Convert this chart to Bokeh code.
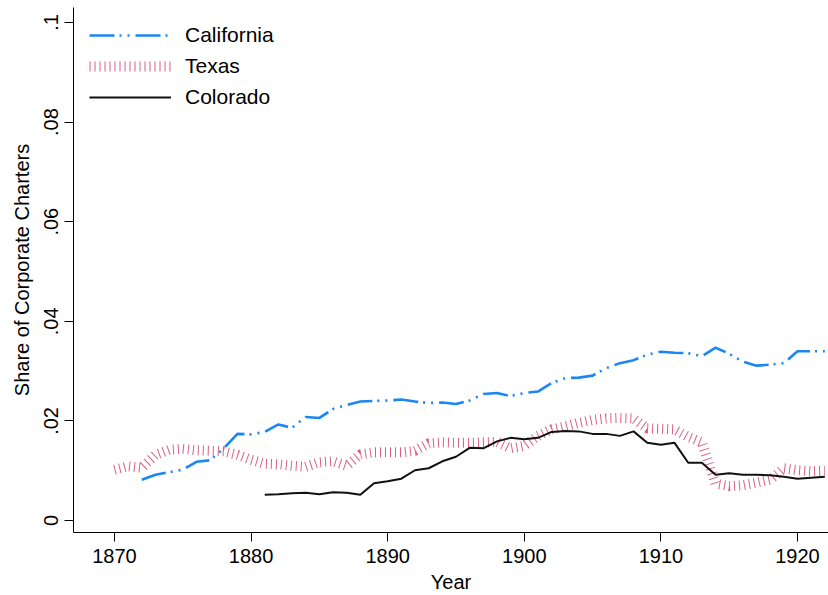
from bokeh.plotting import figure
from bokeh.models import (Legend, LegendItem, FixedTicker, CustomJSTickFormatter,
                          Range1d)
from bokeh.embed import file_html
from bokeh.resources import INLINE

# ---------------- data ----------------
ca_years = list(range(1872, 1923))
ca_share = [0.0082, 0.0092, 0.0097, 0.0102, 0.0118, 0.0121, 0.0145, 0.0174, 0.0173, 0.0178,
            0.0193, 0.0186, 0.0208, 0.0206, 0.0224, 0.0232, 0.0239, 0.0240, 0.0241, 0.0243,
            0.0239, 0.0236, 0.0237, 0.0234, 0.0241, 0.0254, 0.0256, 0.0250, 0.0256, 0.0259,
            0.0276, 0.0286, 0.0287, 0.0291, 0.0306, 0.0316, 0.0322, 0.0333, 0.0339, 0.0337,
            0.0336, 0.0330, 0.0347, 0.0335, 0.0319, 0.0311, 0.0313, 0.0316, 0.0340, 0.0340,
            0.0340]

tx_years = list(range(1870, 1923))
tx_share = [0.0102, 0.0109, 0.0106, 0.0132, 0.0142, 0.0144, 0.0141, 0.0140, 0.0139, 0.0132,
            0.0122, 0.0114, 0.0113, 0.0110, 0.0108, 0.0117, 0.0119, 0.0110, 0.0133, 0.0137,
            0.0137, 0.0137, 0.0140, 0.0155, 0.0157, 0.0156, 0.0156, 0.0157, 0.0158, 0.0145,
            0.0150, 0.0170, 0.0183, 0.0189, 0.0196, 0.0202, 0.0205, 0.0206, 0.0205, 0.0185,
            0.0184, 0.0183, 0.0168, 0.0157, 0.0074, 0.0069, 0.0071, 0.0076, 0.0082, 0.0105,
            0.0101, 0.0099, 0.0100]

co_years = list(range(1881, 1923))
co_share = [0.0052, 0.0053, 0.0055, 0.0056, 0.0053, 0.0057, 0.0056, 0.0052, 0.0075, 0.0079,
            0.0084, 0.0101, 0.0105, 0.0119, 0.0128, 0.0146, 0.0145, 0.0159, 0.0166, 0.0163,
            0.0166, 0.0178, 0.0180, 0.0179, 0.0174, 0.0174, 0.0170, 0.0179, 0.0156, 0.0152,
            0.0156, 0.0116, 0.0116, 0.0092, 0.0095, 0.0092, 0.0092, 0.0091, 0.0088, 0.0084,
            0.0086, 0.0088]

x_ticks = [1870, 1880, 1890, 1900, 1910, 1920]
y_ticks = [0, 0.02, 0.04, 0.06, 0.08, 0.1]
series_labels = ["California", "Texas", "Colorado"]

FONT = "Liberation Sans"

p = figure(width=828, height=595, output_backend="svg", toolbar_location=None,
           x_range=Range1d(1867.0, 1922.27), y_range=Range1d(-0.0024, 0.1030),
           min_border_left=73, min_border_right=0, min_border_top=7, min_border_bottom=62)
p.outline_line_color = None
p.xgrid.visible = False
p.ygrid.visible = False
p.background_fill_color = "white"

r_tx = p.line(tx_years, tx_share, line_color="#d2436c", line_width=10, line_dash="1 4",
              line_alpha=0.85)
r_ca = p.line(ca_years, ca_share, line_color="#1b86f5", line_width=2.6, line_dash="25 5 2 6 2 6")
r_co = p.line(co_years, co_share, line_color="#111111", line_width=2)

legend = Legend(items=[LegendItem(label=series_labels[0], renderers=[r_ca]),
                       LegendItem(label=series_labels[1], renderers=[r_tx]),
                       LegendItem(label=series_labels[2], renderers=[r_co])],
                location="top_left")
legend.border_line_color = None
legend.background_fill_alpha = 0
legend.glyph_width = 82
legend.glyph_height = 24
legend.label_height = 24
legend.label_standoff = 14
legend.spacing = 7
legend.padding = 8
legend.margin = 16
legend.label_text_font = FONT
legend.label_text_font_size = "21px"
legend.label_text_color = "#000000"
p.add_layout(legend)

for ax in (p.xaxis[0], p.yaxis[0]):
    ax.axis_line_color = "#000000"
    ax.major_tick_line_color = "#000000"
    ax.major_tick_out = 9
    ax.major_tick_in = 0
    ax.minor_tick_line_color = None
    ax.major_label_text_font = FONT
    ax.major_label_text_font_size = "20px"
    ax.major_label_text_color = "#000000"
    ax.axis_label_text_font = FONT
    ax.axis_label_text_font_size = "20px"
    ax.axis_label_text_font_style = "normal"
    ax.axis_label_text_color = "#000000"

p.xaxis.ticker = FixedTicker(ticks=x_ticks)
p.xaxis.axis_label = "Year"
p.xaxis.major_label_standoff = 7
p.xaxis.axis_label_standoff = 5

p.yaxis.ticker = FixedTicker(ticks=y_ticks)
p.yaxis.axis_label = "Share of Corporate Charters"
p.yaxis.major_label_orientation = "vertical"
p.yaxis.major_label_standoff = 6
p.yaxis.axis_label_standoff = 9
p.yaxis.formatter = CustomJSTickFormatter(code="""
if (tick == 0) return "0";
let s = tick.toFixed(2);
s = s.replace(/^0/, "");
s = s.replace(/0$/, "");
return s;
""")

open("out.html", "w").write(file_html(p, INLINE))
